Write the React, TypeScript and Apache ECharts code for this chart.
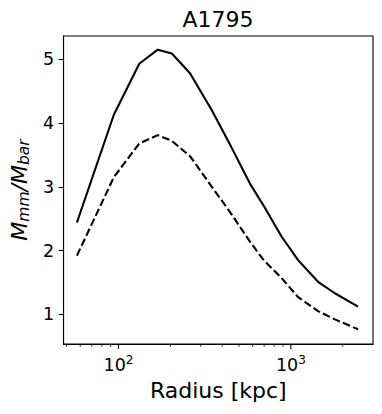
import React, { useEffect, useRef } from "react";
import * as echarts from "echarts";

const RADIUS = [57.4, 94, 132, 169, 204, 260, 348, 450, 579, 700, 883, 1102, 1438, 1800, 2455];
const M_SOLID = [2.44, 4.13, 4.93, 5.15, 5.09, 4.78, 4.2, 3.63, 3.05, 2.69, 2.22, 1.85, 1.51, 1.33, 1.12];
const M_DASHED = [1.92, 3.15, 3.68, 3.81, 3.72, 3.48, 3.0, 2.58, 2.14, 1.84, 1.57, 1.27, 1.05, 0.92, 0.765];
const Y_TICKS = [1, 2, 3, 4, 5];
const X_MAJOR = [100, 1000];
const X_MINOR = [50, 60, 70, 80, 90, 200, 300, 400, 500, 600, 700, 800, 900, 2000];

const X_MIN = 48;
const X_MAX = 2997;
const Y_MIN = 0.534;
const Y_MAX = 5.365;

const FONT = "DejaVu Sans";

export default function App() {
  const ref = useRef<HTMLDivElement>(null);
  useEffect(() => {
    if (!ref.current) return;
    const chart = echarts.init(ref.current, null, { renderer: "svg" });
    const tickSeries = (vals: number[], len: number, w: number) => ({
      type: "custom",
      silent: true,
      clip: false,
      data: vals.map((v) => [v, Y_MIN]),
      encode: { x: 0, y: 1 },
      renderItem: (params: any, api: any) => {
        const p = api.coord([api.value(0), Y_MIN]);
        return {
          type: "line",
          shape: { x1: p[0], y1: p[1], x2: p[0], y2: p[1] + len },
          style: { stroke: "#000", lineWidth: w },
        };
      },
    });
    chart.setOption({
      animation: false,
      title: {
        text: "A1795",
        left: 218,
        textAlign: "center",
        top: 8,
        padding: 0,
        textStyle: { fontFamily: FONT, fontSize: 22, fontWeight: "normal", color: "#000", lineHeight: 22 },
      },
      grid: {
        left: 63,
        right: 9,
        top: 36,
        bottom: 70,
        show: true,
        borderColor: "#000",
        borderWidth: 1.1,
        backgroundColor: "transparent",
      },
      xAxis: {
        type: "log",
        logBase: 10,
        min: X_MIN,
        max: X_MAX,
        name: "Radius [kpc]",
        nameLocation: "middle",
        nameGap: 35,
        nameTextStyle: { fontFamily: FONT, fontSize: 22, color: "#000", lineHeight: 22 },
        axisLine: { show: true, lineStyle: { color: "#000", width: 1.1 } },
        axisTick: { show: false },
        splitLine: { show: false },
        minorTick: { show: false },
        axisLabel: {
          showMinLabel: false,
          showMaxLabel: false,
          margin: 10,
          formatter: (v: number) => {
            const e = Math.round(Math.log10(v));
            if (Math.abs(Math.pow(10, e) - v) > 1e-6 * v) return "";
            return `{b|10}{s|${e}}`;
          },
          rich: {
            b: { fontFamily: FONT, fontSize: 17.5, color: "#000", lineHeight: 20, verticalAlign: "bottom" },
            s: { fontFamily: FONT, fontSize: 12, color: "#000", lineHeight: 20, verticalAlign: "top", padding: [0, 0, 6, 0] },
          },
        },
      },
      yAxis: {
        type: "value",
        min: Y_MIN,
        max: Y_MAX,
        name: "{i|M}{s|mm}{i|/M}{s|bar}",
        nameLocation: "middle",
        nameRotate: 90,
        nameGap: 30,
        nameTextStyle: {
          rich: {
            i: { fontFamily: FONT, fontStyle: "italic", fontSize: 22, color: "#000", lineHeight: 26 },
            s: { fontFamily: FONT, fontStyle: "italic", fontSize: 15.5, color: "#000", lineHeight: 14, verticalAlign: "bottom" },
          },
        },
        axisLine: { show: true, lineStyle: { color: "#000", width: 1.1 } },
        axisTick: { show: true, inside: false, length: 5, lineStyle: { color: "#000", width: 1.1 }, customValues: Y_TICKS },
        axisLabel: {
          customValues: Y_TICKS,
          showMinLabel: true,
          showMaxLabel: true,
          margin: 9.5,
          fontFamily: FONT,
          fontSize: 17.5,
          color: "#000",
        },
        splitLine: { show: false },
      },
      series: [
        {
          type: "line",
          data: RADIUS.map((r, i) => [r, M_SOLID[i]]),
          showSymbol: false,
          symbol: "none",
          lineStyle: { color: "#000", width: 2.1, type: "solid" },
        },
        {
          type: "line",
          data: RADIUS.map((r, i) => [r, M_DASHED[i]]),
          showSymbol: false,
          symbol: "none",
          lineStyle: { color: "#000", width: 2.1, type: [7.7, 3.3] },
        },
        tickSeries(X_MAJOR, 4.9, 1.1),
        tickSeries(X_MINOR, 2.8, 0.8),
      ],
    });
    return () => chart.dispose();
  }, []);
  return (
    <div
      ref={ref}
      style={{ position: "fixed", left: 0, top: 0, width: 382, height: 414, background: "#fff" }}
    />
  );
}
